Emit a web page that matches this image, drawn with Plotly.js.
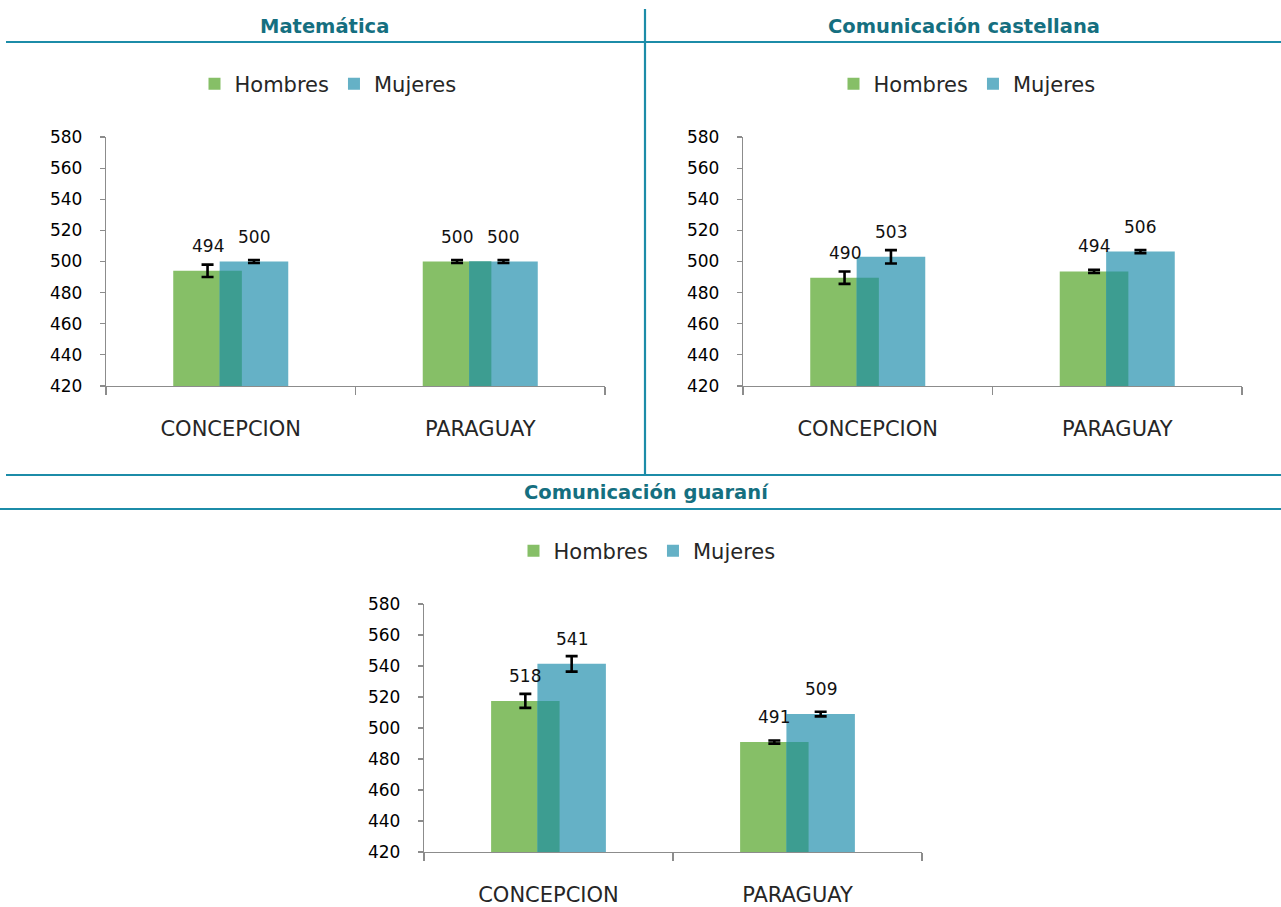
<!DOCTYPE html>
<html>
<head>
<meta charset="utf-8">
<script src="https://cdn.plot.ly/plotly-3.0.1.min.js"></script>
<style>html,body{margin:0;padding:0;background:#fff;}#chart{width:1281px;height:907px;}</style>
</head>
<body>
<div id="chart"></div>
<script>
// ---- data ----
const categories = ['CONCEPCION', 'PARAGUAY'];
const seriesNames = ['Hombres', 'Mujeres'];
const panelTitles = ['Matemática', 'Comunicación castellana', 'Comunicación guaraní'];

const matHombres = [494, 500];
const matMujeres = [500, 500];
const matHombresErr = [4, 1];
const matMujeresErr = [1, 1];

const casHombres = [489.6, 493.6];
const casMujeres = [503, 506.4];
const casHombresErr = [4, 1];
const casMujeresErr = [4.3, 1];

const guaHombres = [517.5, 490.9];
const guaMujeres = [541.4, 509];
const guaHombresErr = [4.5, 1];
const guaMujeresErr = [5, 1.5];

const yTicks = [420, 440, 460, 480, 500, 520, 540, 560, 580];

// ---- style ----
const W = 1281, H = 907;
const px = x => x / W;
const py = y => 1 - y / H;
const GREEN = '#86bf67', BLUE = '#65b1c6', OVER = '#3d9d91';
const LINE = '#1c8ca8', TITLE = '#156f80';
const FONT = 'DejaVu Sans, Verdana, sans-serif';
const BW = 0.275, OFF = 0.093;

const panels = [
  {h: matHombres, m: matMujeres, he: matHombresErr, me: matMujeresErr, xa: 'x', ya: 'y', lg: 'legend',
   xd: [106, 605], yd: [137, 386], leg: [328, 84], title: [324, 27]},
  {h: casHombres, m: casMujeres, he: casHombresErr, me: casMujeresErr, xa: 'x2', ya: 'y2', lg: 'legend2',
   xd: [743, 1242], yd: [137, 386], leg: [967, 84], title: [964, 27]},
  {h: guaHombres, m: guaMujeres, he: guaHombresErr, me: guaMujeresErr, xa: 'x3', ya: 'y3', lg: 'legend3',
   xd: [424, 922], yd: [604, 852], leg: [647, 551], title: [646, 493]}
];

const traces = [];
const annotations = [];
const layout = {
  width: W, height: H,
  margin: {l: 0, r: 0, t: 0, b: 0},
  paper_bgcolor: '#fff', plot_bgcolor: 'rgba(0,0,0,0)',
  barmode: 'overlay',
  showlegend: true,
  font: {family: FONT, color: '#222'},
  shapes: [
    {type: 'line', xref: 'paper', yref: 'paper', x0: px(6), x1: px(1281), y0: py(42), y1: py(42), line: {color: LINE, width: 2.2}},
    {type: 'line', xref: 'paper', yref: 'paper', x0: px(645), x1: px(645), y0: py(9), y1: py(475), line: {color: LINE, width: 2.2}},
    {type: 'line', xref: 'paper', yref: 'paper', x0: px(6), x1: px(1281), y0: py(475), y1: py(475), line: {color: LINE, width: 2.2}},
    {type: 'line', xref: 'paper', yref: 'paper', x0: px(0), x1: px(1281), y0: py(509), y1: py(509), line: {color: LINE, width: 2.2}}
  ],
  annotations: annotations
};

panels.forEach((p, i) => {
  const sfx = i === 0 ? '' : String(i + 1);
  const errStyle = arr => ({type: 'data', array: arr, visible: true, color: '#000', thickness: 2.6, width: 6});
  traces.push({
    type: 'bar', name: seriesNames[0], x: categories, y: p.h,
    xaxis: p.xa, yaxis: p.ya, legend: p.lg,
    width: BW, offset: -OFF - BW / 2,
    marker: {color: GREEN, line: {width: 0}},
    error_y: errStyle(p.he), hoverinfo: 'skip'
  });
  traces.push({
    type: 'bar', name: seriesNames[1], x: categories, y: p.m,
    xaxis: p.xa, yaxis: p.ya, legend: p.lg,
    width: BW, offset: OFF - BW / 2,
    marker: {color: BLUE, line: {width: 0}},
    error_y: errStyle(p.me), hoverinfo: 'skip'
  });
  // overlapping region of the two bars (darker blend)
  const ovW = 2 * (BW / 2 - OFF);
  traces.push({
    type: 'bar', name: 'overlap', x: categories, y: p.h.map((v, k) => Math.min(v, p.m[k])),
    xaxis: p.xa, yaxis: p.ya, showlegend: false,
    width: ovW, offset: -ovW / 2,
    marker: {color: OVER, line: {width: 0}}, hoverinfo: 'skip'
  });

  layout['xaxis' + sfx] = {
    domain: [px(p.xd[0]), px(p.xd[1])], anchor: 'y' + sfx,
    type: 'category', categoryorder: 'array', categoryarray: categories,
    range: [-0.5, 1.5], tickson: 'boundaries',
    showline: true, linecolor: '#8c8c8c', linewidth: 1.2,
    ticks: 'outside', ticklen: 8, tickcolor: '#8c8c8c', tickwidth: 1.2,
    showgrid: false, zeroline: false, fixedrange: true,
    tickfont: {family: FONT, size: 21, color: '#262626'},
    ticklabelstandoff: 24
  };
  layout['yaxis' + sfx] = {
    domain: [py(p.yd[1]), py(p.yd[0])], anchor: 'x' + sfx,
    range: [420, 580], tickmode: 'array', tickvals: yTicks, ticktext: yTicks.map(String),
    showline: true, linecolor: '#8c8c8c', linewidth: 1.2,
    ticks: 'outside', ticklen: 5, tickcolor: '#8c8c8c', tickwidth: 1.2,
    showgrid: false, zeroline: false, fixedrange: true,
    tickfont: {family: FONT, size: 17, color: '#000'},
    ticklabelstandoff: 14
  };
  layout[p.lg] = {
    x: px(p.leg[0]), y: py(p.leg[1]), xanchor: 'center', yanchor: 'middle',
    orientation: 'h', bgcolor: 'rgba(0,0,0,0)',
    font: {family: FONT, size: 21, color: '#262626'},
    traceorder: 'normal', itemclick: false
  };

  // value labels
  [[p.h, -OFF], [p.m, OFF]].forEach(([vals, off]) => {
    vals.forEach((v, k) => {
      annotations.push({
        xref: p.xa, yref: p.ya, x: k + off, y: v, yshift: 25,
        text: String(Math.round(v)), showarrow: false,
        xanchor: 'center', yanchor: 'middle',
        font: {family: FONT, size: 17, color: '#111'}
      });
    });
  });

  // panel title
  annotations.push({
    xref: 'paper', yref: 'paper', x: px(p.title[0]), y: py(p.title[1]),
    text: '<b>' + panelTitles[i] + '</b>', showarrow: false,
    xanchor: 'center', yanchor: 'middle',
    font: {family: FONT, size: 19.5, color: TITLE}
  });
});

Plotly.newPlot('chart', traces, layout, {staticPlot: true, displayModeBar: false});
</script>
</body>
</html>
